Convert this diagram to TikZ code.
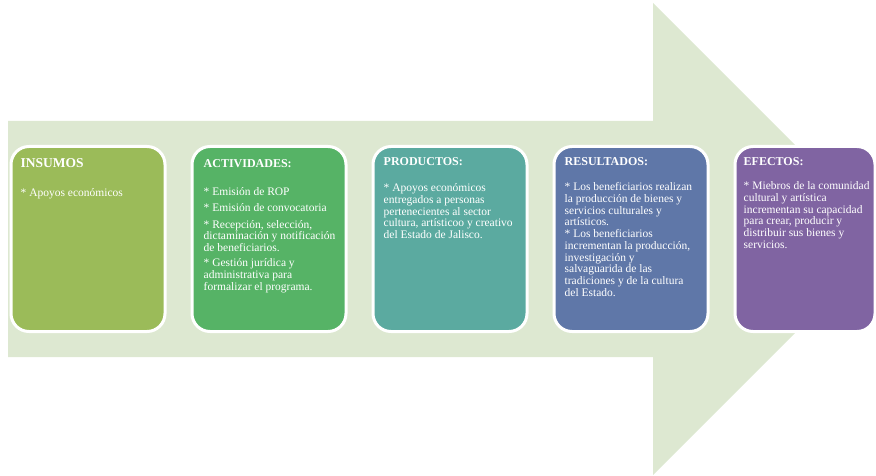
\documentclass[tikz,border=0pt]{standalone}
\usepackage{fontspec}
\setmainfont{Liberation Serif}
\usetikzlibrary{positioning}
\definecolor{arrowgreen}{RGB}{221,232,209}
\definecolor{insumoscol}{RGB}{155,187,89}
\definecolor{actividadescol}{RGB}{86,179,102}
\definecolor{productoscol}{RGB}{91,170,160}
\definecolor{resultadoscol}{RGB}{95,119,168}
\definecolor{efectoscol}{RGB}{128,100,162}

\begin{document}
\begin{tikzpicture}[x=1pt,y=-1pt,
  stage/.style={draw=white, line width=3pt, rounded corners=18pt,
    minimum width=154pt, minimum height=185pt, inner sep=0pt},
  heading/.style={inner sep=0pt, text=white,
    font=\fontsize{12}{14}\selectfont\bfseries},
  body/.style={inner sep=0pt, text=white, align=left,
    font=\fontsize{11.5}{11.7}\selectfont}]
\useasboundingbox (0,0) rectangle (876,476);
\clip (0,0) rectangle (876,476);
% Big arrow
\fill[arrowgreen] (8,121) -- (653,121) -- (653,3) -- (889,239)
  -- (653,475) -- (653,357) -- (8,357) -- cycle;
% Stages
\node[stage, fill=insumoscol] (insumos) at (88,239) {};
\node[stage, fill=actividadescol, right=24pt of insumos] (actividades) {};
\node[stage, fill=productoscol, right=24pt of actividades] (productos) {};
\node[stage, fill=resultadoscol, right=24pt of productos] (resultados) {};
\node[stage, fill=efectoscol, minimum width=140pt, right=24pt of resultados] (efectos) {};
% Headings
\node[heading, font=\fontsize{13.5}{15}\selectfont\bfseries,
  below right=13pt and 11pt of insumos.north west] (insumostitle) {INSUMOS};
\node[heading, below right=14pt and 13pt of actividades.north west] (actividadestitle) {ACTIVIDADES:};
\node[heading, below right=12pt and 12pt of productos.north west] (productostitle) {PRODUCTOS:};
\node[heading, below right=12pt and 12pt of resultados.north west] (resultadostitle) {RESULTADOS:};
\node[heading, below right=12pt and 10pt of efectos.north west] (efectostitle) {EFECTOS:};
% Texts
\node[body, below right=21pt and 0pt of insumostitle.south west] (insumostext)
  {* Apoyos económicos};
\node[body, below right=20pt and 0pt of actividadestitle.south west] (actividadestext)
  {* Emisión de ROP\\[4.5pt]
   * Emisión de convocatoria\\[4.5pt]
   * Recepción, selección,\\
   dictaminación y notificación\\
   de beneficiarios.\\[3.5pt]
   * Gestión jurídica y\\
   administrativa para\\
   formalizar el programa.};
\node[body, below right=18pt and 0pt of productostitle.south west] (productostext)
  {* Apoyos económicos\\
   entregados a personas\\
   pertenecientes al sector\\
   cultura, artísticoo y creativo\\
   del Estado de Jalisco.};
\node[body, below right=17pt and 0pt of resultadostitle.south west] (resultadostext)
  {* Los beneficiarios realizan\\
   la producción de bienes y\\
   servicios culturales y\\
   artísticos.\\
   * Los beneficiarios\\
   incrementan la producción,\\
   investigación y\\
   salvaguarida de las\\
   tradiciones y de la cultura\\
   del Estado.};
\node[body, below right=16pt and 0pt of efectostitle.south west] (efectostext)
  {* Miebros de la comunidad\\
   cultural y artística\\
   incrementan su capacidad\\
   para crear, producir y\\
   distribuir sus bienes y\\
   servicios.};
\end{tikzpicture}
\end{document}
